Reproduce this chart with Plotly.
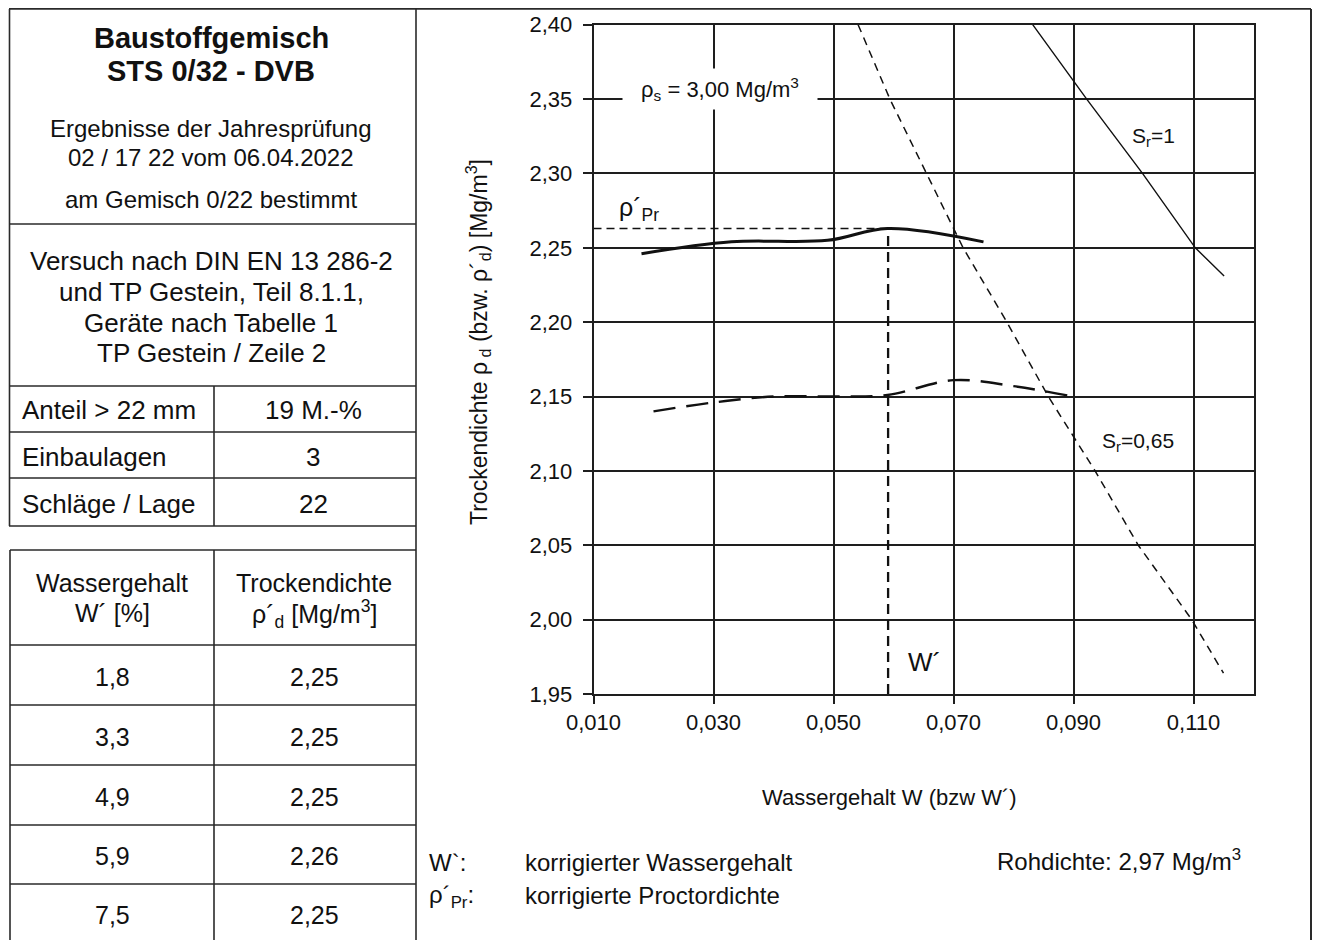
import plotly.graph_objects as go

FIG_W, FIG_H = 1327, 940
OFF = 8  # page body margin of the browser
FONT = "Liberation Sans, Arial, sans-serif"
INK = "#111111"

# ---------------- data ----------------
# corrected Proctor curve (W', rho'_d)
w_corr = [0.018, 0.033, 0.049, 0.059, 0.075]
rho_corr = [2.246, 2.254, 2.255, 2.263, 2.254]
# uncorrected Proctor curve (W, rho_d)
w_raw = [0.020, 0.030, 0.040, 0.050, 0.059, 0.070, 0.080, 0.090]
rho_raw = [2.140, 2.146, 2.150, 2.150, 2.151, 2.161, 2.157, 2.150]
# saturation line Sr = 0,65
w_sr065 = [0.0541, 0.0594, 0.0655, 0.0716, 0.0789, 0.0858, 0.0936, 0.1008, 0.1097, 0.1150]
rho_sr065 = [2.400, 2.350, 2.300, 2.250, 2.200, 2.150, 2.100, 2.050, 2.000, 1.964]
# saturation line Sr = 1
w_sr1 = [0.0832, 0.0922, 0.1015, 0.1103, 0.1151]
rho_sr1 = [2.400, 2.350, 2.300, 2.250, 2.231]
# optimum (W', rho'_Pr)
w_opt = 0.0591
rho_pr = 2.263

x_range = [0.010, 0.120]
y_range = [1.95, 2.40]

# table contents
param_labels = ["Anteil > 22 mm", "Einbaulagen", "Schläge / Lage"]
param_values = ["19 M.-%", "3", "22"]
table_w = [1.8, 3.3, 4.9, 5.9, 7.5]
table_rho = [2.25, 2.25, 2.25, 2.26, 2.25]

# plot area in screen pixels
PX_L, PX_R = 593.5, 1253.5
PY_T, PY_B = 24.7, 694.0


def px(x):
    return (x - OFF) / FIG_W


def py(y):
    return 1 - (y - OFF) / FIG_H


fig = go.Figure()

fig.add_trace(go.Scatter(x=w_sr065, y=rho_sr065, mode="lines",
                         line=dict(color=INK, width=1.5, dash="8px,6px"),
                         hoverinfo="skip"))
fig.add_trace(go.Scatter(x=w_sr1, y=rho_sr1, mode="lines",
                         line=dict(color=INK, width=1.4), hoverinfo="skip"))
fig.add_trace(go.Scatter(x=[x_range[0], w_opt], y=[rho_pr, rho_pr], mode="lines",
                         line=dict(color=INK, width=1.6, dash="8px,5px"),
                         hoverinfo="skip"))
fig.add_trace(go.Scatter(x=[w_opt, w_opt], y=[y_range[0], rho_pr], mode="lines",
                         line=dict(color=INK, width=2.3, dash="10px,6px"),
                         hoverinfo="skip"))
fig.add_trace(go.Scatter(x=w_raw, y=rho_raw, mode="lines", line_shape="spline",
                         line=dict(color=INK, width=2.4, dash="22px,11px", smoothing=1.0),
                         hoverinfo="skip"))
fig.add_trace(go.Scatter(x=w_corr, y=rho_corr, mode="lines", line_shape="spline",
                         line=dict(color=INK, width=3, smoothing=1.0),
                         hoverinfo="skip"))

axis_common = dict(showgrid=True, gridcolor="#1e1e1e", gridwidth=1.5,
                   showline=True, linecolor="#1e1e1e", linewidth=1.5, mirror=True,
                   zeroline=False, ticks="outside", tickcolor="#1e1e1e",
                   tickwidth=1.5, tickfont=dict(family=FONT, size=22, color=INK),
                   automargin=False)

fig.update_layout(
    width=FIG_W, height=FIG_H, autosize=False,
    margin=dict(l=0, r=0, t=0, b=0, pad=0, autoexpand=False),
    paper_bgcolor="white", plot_bgcolor="white",
    showlegend=False, separators=",.",
    xaxis=dict(range=x_range, tick0=0.01, dtick=0.02, tickformat=".3f",
               ticklen=8, domain=[px(PX_L), px(PX_R)], **axis_common),
    yaxis=dict(range=y_range, tick0=1.95, dtick=0.05, tickformat=".2f",
               ticklen=9, ticklabelstandoff=6,
               domain=[py(PY_B), py(PY_T)], **axis_common),
)

ann = []


def text(x, y, s, size=24, bold=False, anchor="center", **kw):
    if bold:
        s = "<b>" + s + "</b>"
    ann.append(dict(x=px(x), y=py(y), xref="paper", yref="paper", text=s,
                    showarrow=False, xanchor=anchor, yanchor="middle",
                    font=dict(family=FONT, size=size, color=INK), **kw))


def dtext(x, y, s, size=22, **kw):
    ann.append(dict(x=x, y=y, xref="x", yref="y", text=s, showarrow=False,
                    xanchor="center", yanchor="middle",
                    font=dict(family=FONT, size=size, color=INK), **kw))


# labels inside the chart
dtext(0.0311, 2.3568, "ρ<sub>s</sub> = 3,00 Mg/m<sup>3</sup>", size=22,
      bgcolor="white", width=192, height=38)
dtext(0.1034, 2.3245, "S<sub>r</sub>=1", size=21)
dtext(0.1007, 2.1196, "S<sub>r</sub>=0,65", size=21)
dtext(0.0652, 1.9717, "W´", size=26)
dtext(0.0175, 2.2760, "ρ´<sub>Pr</sub>", size=25)

# axis titles
text(478, 342, "Trockendichte ρ<sub> d</sub> (bzw. ρ´<sub>d</sub>) [Mg/m<sup>3</sup>]",
     size=23, textangle=-90)
text(889, 797, "Wassergehalt W (bzw W´)", size=22)

# notes below the chart
text(427, 862, "W`:", size=24, anchor="left")
text(523, 862, "korrigierter Wassergehalt", size=24, anchor="left")
text(427, 896, "ρ´<sub>Pr</sub>:", size=24, anchor="left")
text(523, 895, "korrigierte Proctordichte", size=24, anchor="left")
text(995, 860, "Rohdichte: 2,97 Mg/m<sup>3</sup>", size=24, anchor="left")

# left panel header
text(211, 38, "Baustoffgemisch", size=29, bold=True)
text(211, 71, "STS 0/32 - DVB", size=29, bold=True)
text(211, 129, "Ergebnisse der Jahresprüfung", size=24)
text(211, 157, "02 / 17 22 vom 06.04.2022", size=24)
text(211, 199, "am Gemisch 0/22 bestimmt", size=24)
text(211, 261, "Versuch nach DIN EN 13 286-2", size=26)
text(211, 292, "und TP Gestein, Teil 8.1.1,", size=26)
text(211, 323, "Geräte nach Tabelle 1", size=26)
text(211, 353, "TP Gestein / Zeile 2", size=26)

# parameter rows
param_y = [410, 457, 504]
for lab, val, yy in zip(param_labels, param_values, param_y):
    text(20, yy, lab, size=26, anchor="left")
    text(313, yy, val, size=26)

# measurement table
text(112, 583, "Wassergehalt", size=25)
text(112, 613, "W´ [%]", size=25)
text(314, 583, "Trockendichte", size=25)
text(314, 614, "ρ´<sub>d</sub> [Mg/m<sup>3</sup>]", size=25)
row_y = [677, 737, 797, 856, 915]
for wv, rv, yy in zip(table_w, table_rho, row_y):
    text(112, yy, f"{wv:.1f}".replace(".", ","), size=25)
    text(314, yy, f"{rv:.2f}".replace(".", ","), size=25)

fig.update_layout(annotations=ann)

# frame and table rules
shapes = []


def line(x0, y0, x1, y1, w=1.6, color="#2a2a2a"):
    shapes.append(dict(type="line", xref="paper", yref="paper",
                       x0=px(x0), y0=py(y0), x1=px(x1), y1=py(y1),
                       line=dict(color=color, width=w)))


TOP = 8.9
RIGHT = 1311
line(9, TOP, RIGHT, TOP)
line(RIGHT, TOP, RIGHT, 948, w=2)
line(416, TOP, 416, 948)
line(9.5, TOP, 9.5, 526)
for yy in [224, 386, 432, 478, 526]:
    line(9, yy, 416, yy)
line(214, 386, 214, 526)
line(10, 550, 10, 948)
line(214, 550, 214, 948)
for yy in [550, 645, 705, 765, 825, 884]:
    line(10, yy, 416, yy)

fig.update_layout(shapes=shapes)

fig.write_html("out.html")
